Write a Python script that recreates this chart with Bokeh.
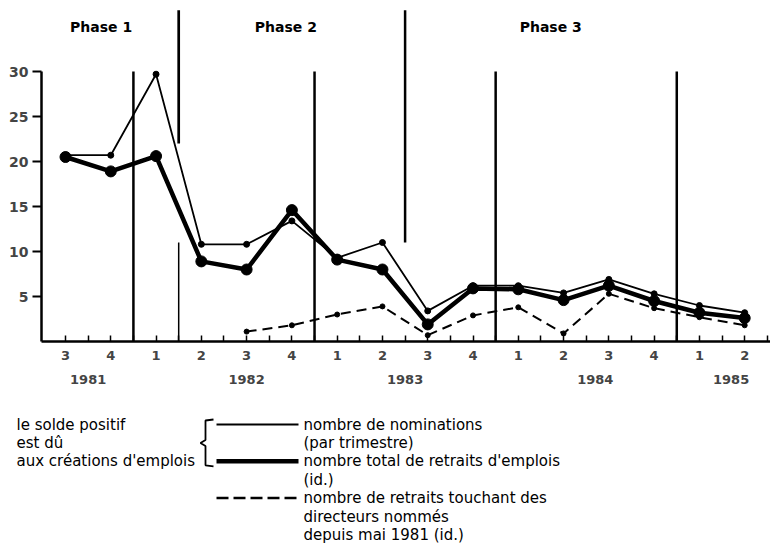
from bokeh.plotting import figure
from bokeh.models import Range1d, LinearAxis, FixedTicker, ColumnDataSource
from bokeh.embed import file_html
from bokeh.resources import INLINE
from bokeh.core.properties import value

# ---------------- data ----------------
quarter_labels = ["3", "4", "1", "2", "3", "4", "1", "2",
                  "3", "4", "1", "2", "3", "4", "1", "2"]
years = ["1981", "1982", "1983", "1984", "1985"]
year_label_pos = [0.5, 4.0, 7.5, 11.7, 14.7]

nominations = [20.7, 20.7, 29.7, 10.8, 10.8, 13.4, 9.3, 11.0,
               3.4, 6.2, 6.2, 5.4, 6.9, 5.3, 4.0, 3.2]
retraits_total = [20.5, 18.9, 20.6, 8.9, 8.0, 14.6, 9.1, 8.0,
                  1.9, 5.9, 5.8, 4.6, 6.2, 4.5, 3.2, 2.6]
retraits_dir_idx = [4, 5, 6, 7, 8, 9, 10, 11, 12, 13, 14, 15]
retraits_dir = [1.1, 1.8, 3.0, 3.9, 0.7, 2.9, 3.8, 0.9, 5.3, 3.7, 2.7, 1.8]

phases = ["Phase  1", "Phase  2", "Phase  3"]
phase_bounds = [2.5, 7.5]
year_bounds = [1.5, 5.5, 9.5, 13.5]
y_ticks = [5, 10, 15, 20, 25, 30]

left_legend = ["le solde positif", "est dû", "aux créations d'emplois"]
right_legend = ["nombre de nominations", "(par trimestre)",
                "nombre total de retraits d'emplois", "(id.)",
                "nombre de retraits touchant des", "directeurs nommés",
                "depuis mai 1981  (id.)"]

idx = list(range(len(quarter_labels)))
FONT = "DejaVu Sans"

# ---------------- main chart ----------------
p = figure(width=770, height=388, output_backend="svg", toolbar_location=None,
           x_range=Range1d(-0.53, 15.57), y_range=Range1d(0, 37.89),
           min_border_left=41, min_border_right=0, min_border_top=0,
           min_border_bottom=47, x_axis_location=None, y_axis_location=None)
p.outline_line_color = None
p.xgrid.visible = False
p.ygrid.visible = False
p.background_fill_color = "white"
p.border_fill_color = "white"

# y axis
yax = LinearAxis(ticker=FixedTicker(ticks=y_ticks, minor_ticks=[]), bounds=(0, 30))
yax.axis_line_width = 2.5
yax.major_tick_line_width = 2
yax.major_tick_out = 9
yax.major_tick_in = 0
yax.major_label_standoff = 4
yax.major_label_text_font = FONT
yax.major_label_text_font_style = "bold"
yax.major_label_text_font_size = "14px"
p.add_layout(yax, "left")

# x axis: quarters
xax = LinearAxis(ticker=FixedTicker(ticks=idx, minor_ticks=[i + 0.5 for i in idx]))
xax.major_label_overrides = {i: lab for i, lab in zip(idx, quarter_labels)}
xax.axis_line_width = 2.5
xax.major_tick_out = 0
xax.major_tick_in = 6
xax.major_tick_line_width = 1.5
xax.minor_tick_out = 0
xax.minor_tick_in = 6
xax.minor_tick_line_width = 1.5
xax.major_label_standoff = 9
xax.major_label_text_font = FONT
xax.major_label_text_font_style = "bold"
xax.major_label_text_font_size = "13px"
p.add_layout(xax, "below")

# x axis: years
yrax = LinearAxis(ticker=FixedTicker(ticks=year_label_pos, minor_ticks=[]))
yrax.major_label_overrides = {pos: y for pos, y in zip(year_label_pos, years)}
yrax.axis_line_color = None
yrax.major_tick_line_color = None
yrax.minor_tick_line_color = None
yrax.major_label_standoff = 6
yrax.major_label_text_font = FONT
yrax.major_label_text_font_style = "bold"
yrax.major_label_text_font_size = "13px"
p.add_layout(yrax, "below")

# vertical separators
p.segment(x0=year_bounds, y0=[0] * 4, x1=year_bounds, y1=[30] * 4,
          line_color="black", line_width=2.5)
p.segment(x0=[phase_bounds[0]], y0=[22.0], x1=[phase_bounds[0]], y1=[36.8],
          line_color="black", line_width=2.7)
p.segment(x0=[phase_bounds[0]], y0=[0], x1=[phase_bounds[0]], y1=[11.0],
          line_color="black", line_width=1.5)
p.segment(x0=[phase_bounds[1]], y0=[11.0], x1=[phase_bounds[1]], y1=[36.8],
          line_color="black", line_width=2.5)

# phase labels
p.text(x=[0.84, 4.92, 10.77], y=[35.0] * 3, text=phases,
       text_font=value(FONT), text_font_style="bold", text_font_size="14px",
       text_align="center", text_baseline="middle", text_color="black")

# series
src_nom = ColumnDataSource(dict(x=idx, y=nominations))
src_tot = ColumnDataSource(dict(x=idx, y=retraits_total))
src_dir = ColumnDataSource(dict(x=retraits_dir_idx, y=retraits_dir))

p.line("x", "y", source=src_dir, line_color="black", line_width=2,
       line_dash="10 6")
p.scatter("x", "y", source=src_dir, size=5, color="black")

p.line("x", "y", source=src_tot, line_color="black", line_width=4.5)
p.scatter("x", "y", source=src_tot, size=11, color="black")

p.line("x", "y", source=src_nom, line_color="black", line_width=1.8)
p.scatter("x", "y", source=src_nom, size=6, color="black")

# ---------------- legend panel (separate root, page pixel coordinates) -------
q = figure(width=770, height=156, output_backend="svg", toolbar_location=None,
           x_range=Range1d(0, 770), y_range=Range1d(544, 388),
           min_border=0, x_axis_location=None, y_axis_location=None)
q.outline_line_color = None
q.xgrid.visible = False
q.ygrid.visible = False
q.background_fill_color = "white"
q.border_fill_color = "white"

row_y = [424 + 18.4 * k for k in range(len(right_legend))]

q.text(x=[16] * 3, y=row_y[:3], text=left_legend, text_font=value(FONT),
       text_font_size="15px", text_baseline="middle", text_color="black")
q.text(x=[303] * len(right_legend), y=row_y, text=right_legend,
       text_font=value(FONT), text_font_size="15px", text_baseline="middle",
       text_color="black")

# brace
mid = (row_y[0] + row_y[2]) / 2
bx = [213, 205, 205, 200, 205, 205, 213]
by = [row_y[0] - 5, row_y[0] - 4, mid - 3, mid, mid + 3,
      row_y[2] + 4, row_y[2] + 5]
q.line(bx, by, line_color="black", line_width=1.8)

# sample lines
q.line([216, 298], [row_y[0], row_y[0]], line_color="black", line_width=1.8)
q.line([216, 298], [row_y[2], row_y[2]], line_color="black", line_width=4.5)
q.line([216, 298], [row_y[4], row_y[4]], line_color="black", line_width=2.5,
       line_dash="12 5")

open("out.html", "w").write(file_html([p, q], INLINE))
